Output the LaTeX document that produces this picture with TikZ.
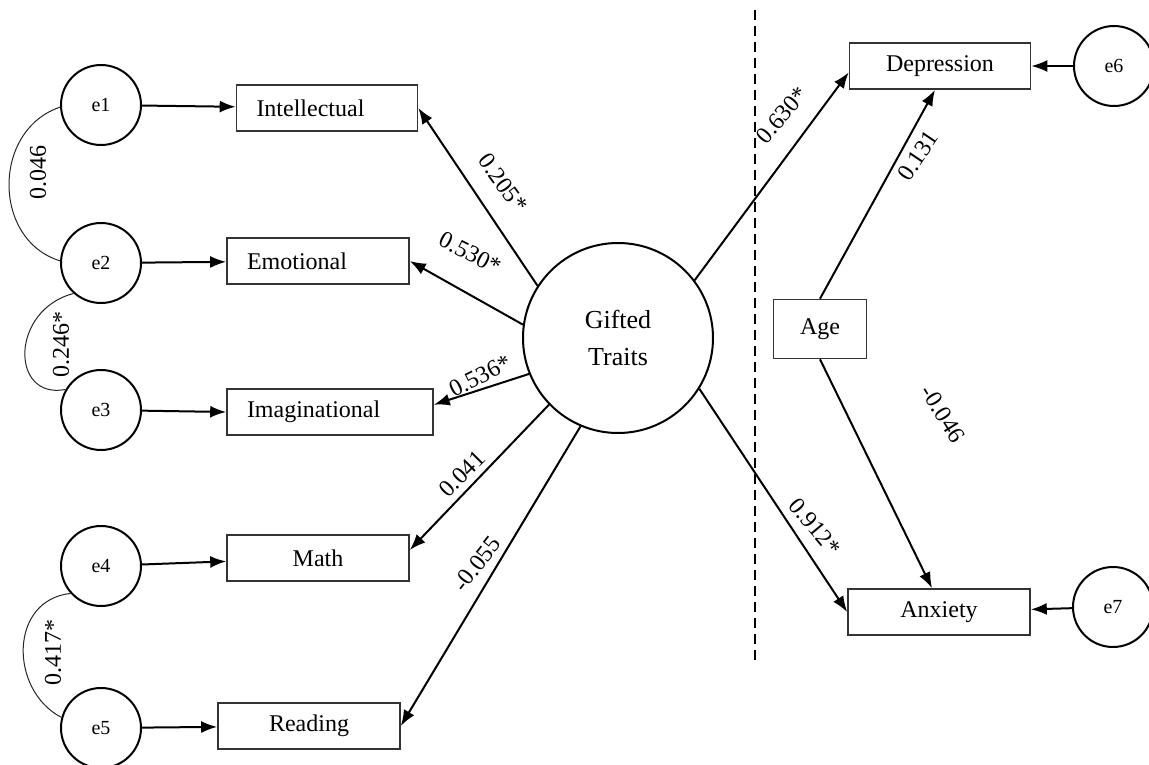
\documentclass[tikz,border=0pt]{standalone}
\usepackage{fontspec}
\setmainfont{Liberation Serif}
\usetikzlibrary{arrows.meta}
\tikzstyle{regr}=[
	-{Latex[length=16pt,width=12pt]},
	line width=2pt,
	draw=black
]
\tikzstyle{cov}=[
	-,
	line width=1pt,
	draw=black!85
]
\tikzstyle{obs}=[
	rectangle,
	draw=black!80,
	line width=1.6pt,
	minimum height=46pt,
	inner sep=0pt,
	font=\fontsize{24}{26}\selectfont
]
\tikzstyle{lobs}=[
	obs,
	align=left,
	inner xsep=20pt
]
\tikzstyle{err}=[
	circle,
	draw=black,
	line width=2pt,
	minimum size=80pt,
	inner sep=0pt,
	font=\fontsize{20}{22}\selectfont
]
\tikzstyle{latent}=[
	err,
	minimum size=190pt,
	align=center,
	font=\fontsize{26}{37}\selectfont
]
\tikzstyle{coef}=[
	inner sep=0pt,
	font=\fontsize{24}{24}\selectfont
]
\begin{document}
\begin{tikzpicture}[x=1pt,y=-1pt]
\useasboundingbox (0,0) rectangle (1149,765);

\node[err] (e1) at (101,105) {e1};
\node[err] (e2) at (101,263) {e2};
\node[err] (e3) at (101,410) {e3};
\node[err] (e4) at (101,566) {e4};
\node[err] (e5) at (101,728) {e5};

\node[lobs, text width=141pt] (int) at (327,108) {Intellectual};
\node[lobs, text width=142pt] (emo) at (318,261) {Emotional};
\node[lobs, text width=166pt] (ima) at (330,412) {Imaginational};
\node[obs, minimum width=182pt] (mat) at (318,558) {Math};
\node[obs, minimum width=182pt] (rea) at (309,726) {Reading};

\node[latent] (gt) at (618,338) {Gifted\\Traits};
\node[obs, minimum width=93pt, minimum height=59pt] (age) at (820,329) {Age};
\node[obs, minimum width=181pt] (dep) at (940,66) {Depression};
\node[obs, minimum width=182pt] (anx) at (939,612) {Anxiety};
\node[err] (e6) at (1114,66) {e6};
\node[err] (e7) at (1113,607) {e7};

\draw[line width=1.6pt, dash pattern=on 10pt off 6pt] (755,10) -- (755,665);

\draw[regr] (e1) to (int);
\draw[regr] (e2) to (emo);
\draw[regr] (e3) to (ima.west);
\draw[regr] (e4) to (mat);
\draw[regr] (e5) to (rea);
\draw[regr] (e6) to (dep);
\draw[regr] (e7) to (anx);

\draw[regr] (gt.147) to (int.east);
\draw[regr] (gt.172) to (emo.east);
\draw[regr] (gt.202) to (ima.4);
\draw[regr] (gt.224) to (mat.5);
\draw[regr] (gt.247) to (rea.east);
\draw[regr] (gt.37) to (dep.184);
\draw[regr] (gt.328) to (anx.west);
\draw[regr] (age.north) to ([xshift=-5pt]dep.south);
\draw[regr] (age.south) to ([xshift=-7pt]anx.north);

\draw[cov] (e1.183) .. controls (-8,130) and (-8,240) .. (e2.177);
\draw[cov] (e2.228) .. controls (10,310) and (10,400) .. (e3.150);
\draw[cov] (e4.222) .. controls (9,600) and (9,690) .. (e5.165);

\node[coef, rotate=90] (c12) at (38,173) {0.046};
\node[coef, rotate=90] (c23) at (61,344) {0.246*};
\node[coef, rotate=90] (c45) at (53,652) {0.417*};
\node[coef, rotate=-54] (b1) at (503,183) {0.205*};
\node[coef, rotate=-27] (b2) at (470,253) {0.530*};
\node[coef, rotate=27] (b3) at (480,376) {0.536*};
\node[coef, rotate=45] (b4) at (462,474) {0.041};
\node[coef, rotate=52] (b5) at (477,564) {-0.055};
\node[coef, rotate=49] (b6) at (782,115) {0.630*};
\node[coef, rotate=-50] (b7) at (815,527) {0.912*};
\node[coef, rotate=56] (b8) at (918,156) {0.131};
\node[coef, rotate=-58] (b9) at (943,414) {-0.046};

\end{tikzpicture}
\end{document}
